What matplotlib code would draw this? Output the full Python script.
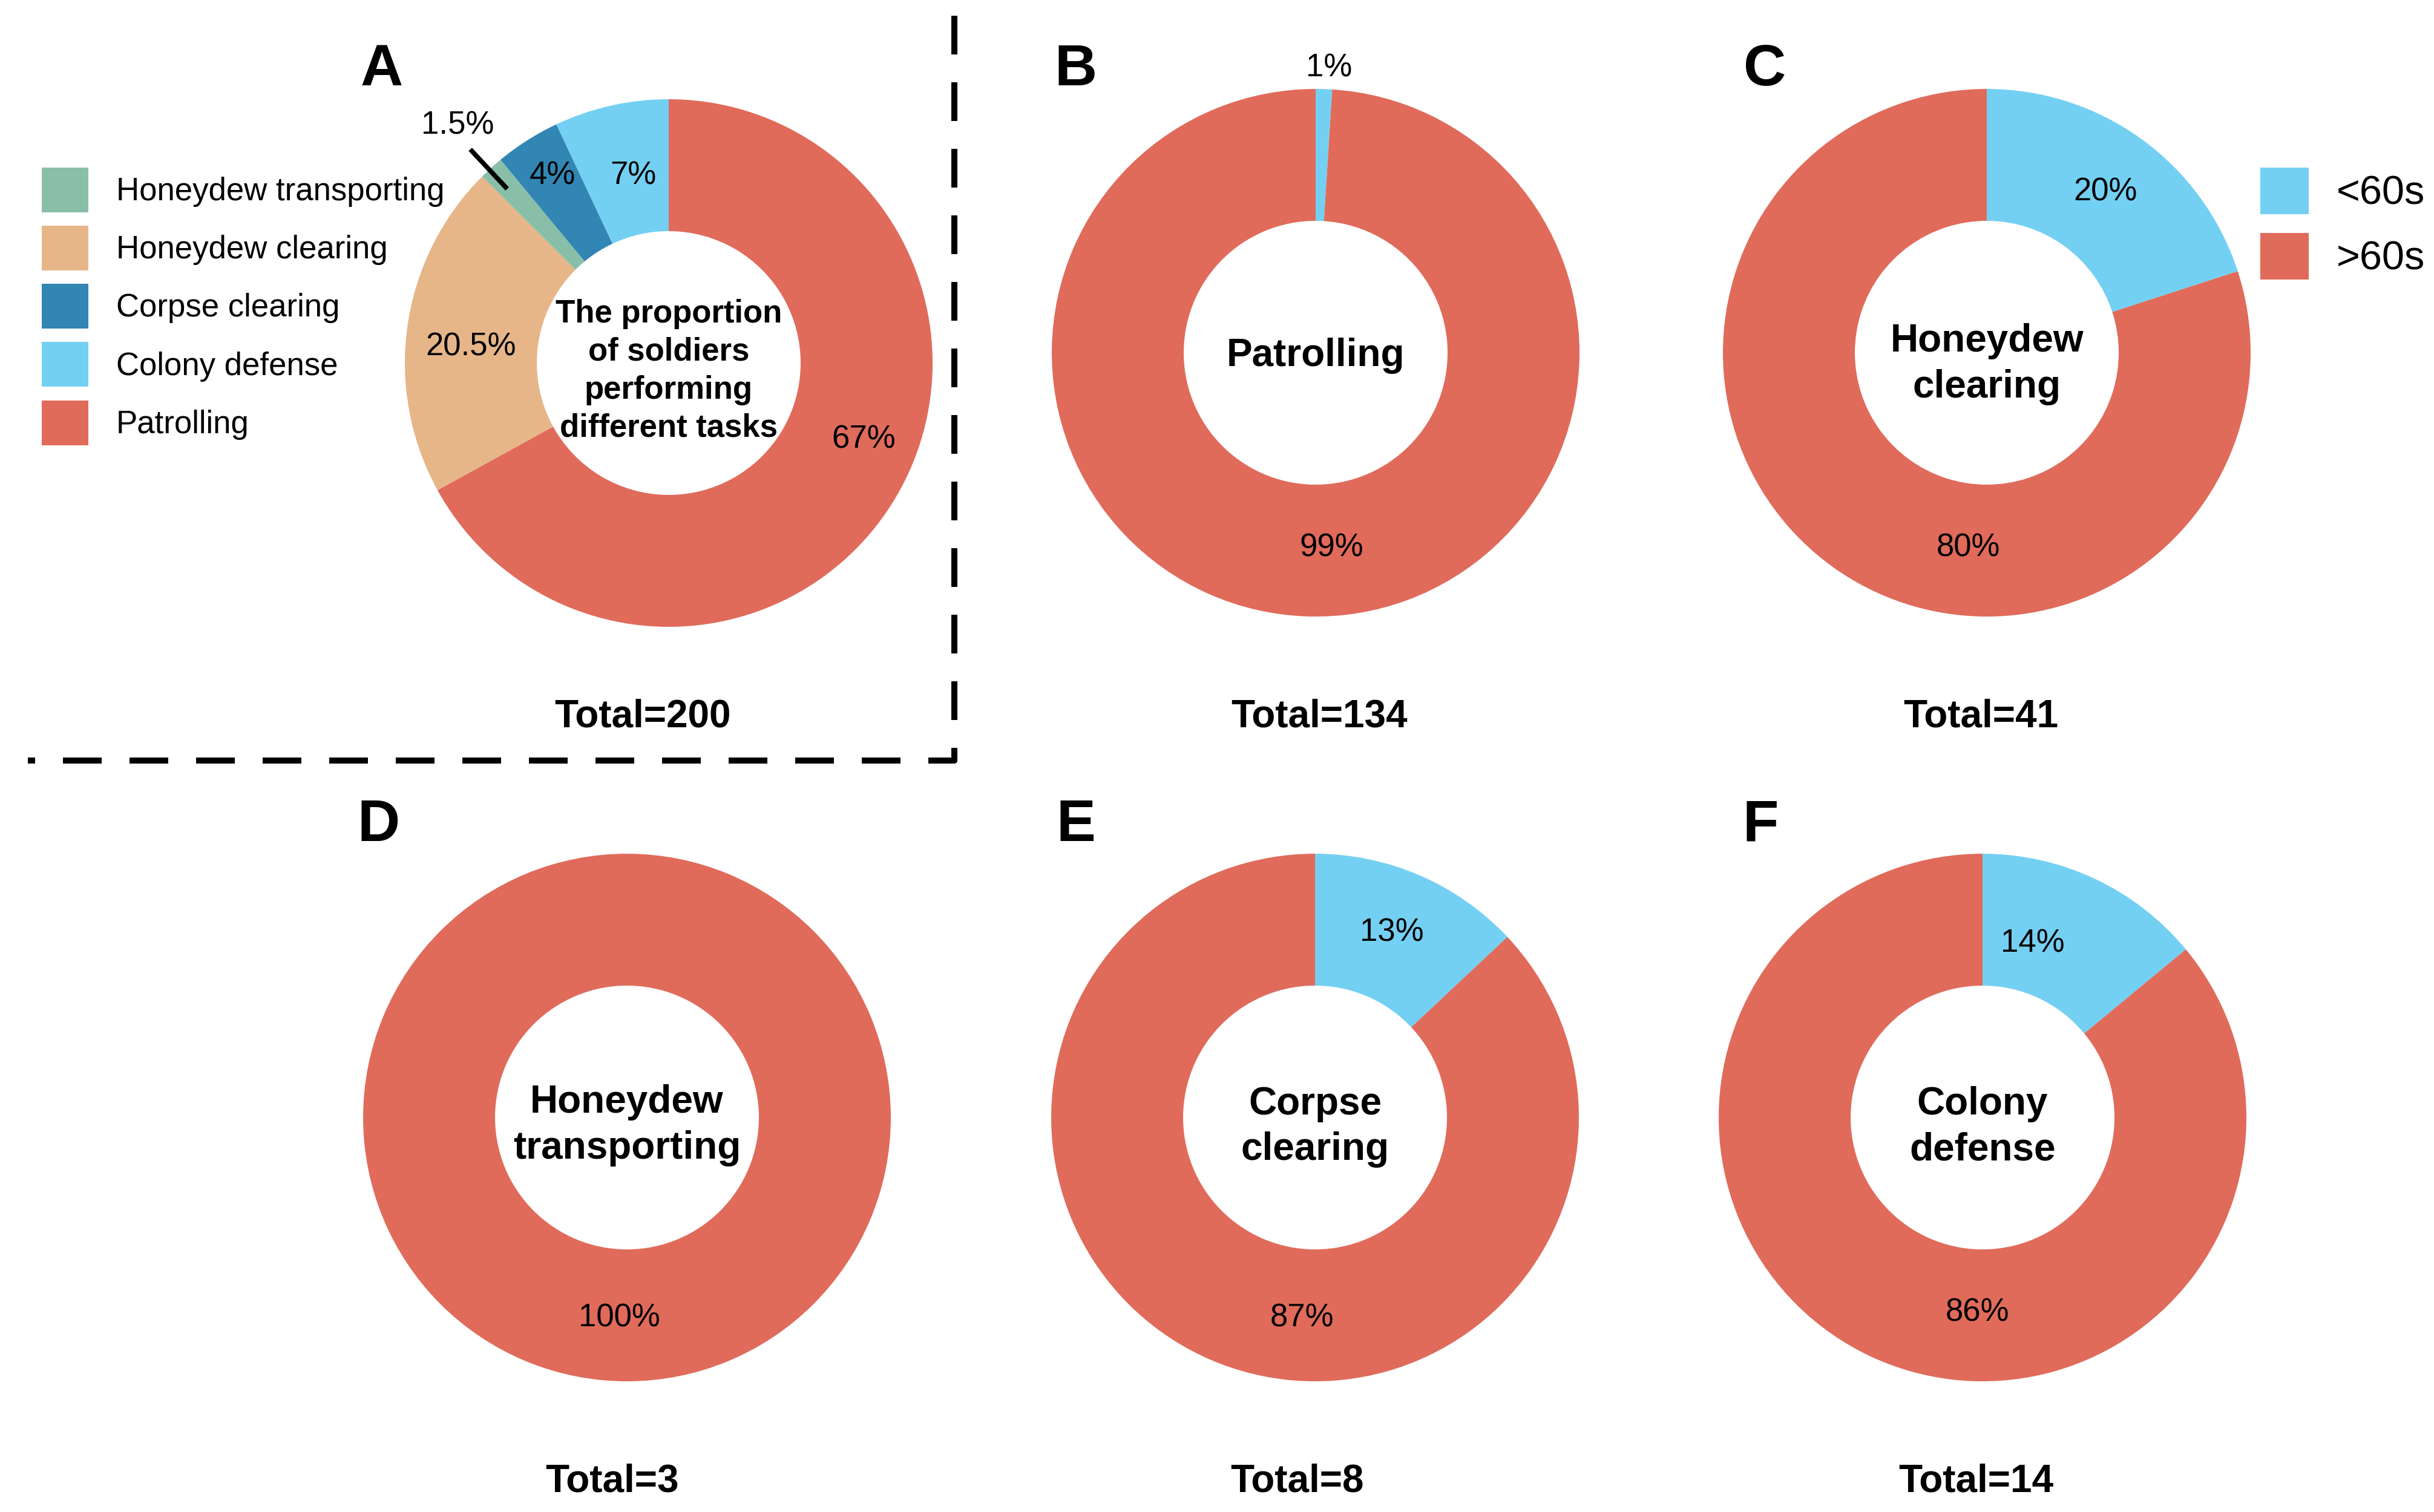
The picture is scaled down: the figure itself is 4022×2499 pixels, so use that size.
import matplotlib
matplotlib.use("Agg")
import matplotlib.pyplot as plt
from matplotlib.patches import Patch
from matplotlib.lines import Line2D

plt.rcParams['font.family'] = ['Liberation Sans', 'DejaVu Sans']

# ---------------- data ----------------
task_labels = ["Patrolling", "Honeydew clearing", "Honeydew transporting",
               "Corpse clearing", "Colony defense"]
task_pct = [67, 20.5, 1.5, 4, 7]
task_text = ["67%", "20.5%", "1.5%", "4%", "7%"]
legend_order = ["Honeydew transporting", "Honeydew clearing", "Corpse clearing",
                "Colony defense", "Patrolling"]

dur_labels = ["<60s", ">60s"]
panel_names = ["Patrolling", "Honeydew\nclearing", "Honeydew\ntransporting",
               "Corpse\nclearing", "Colony\ndefense"]
short_pct = [1, 20, 0, 13, 14]
long_pct = [99, 80, 100, 87, 86]
totals = [134, 41, 3, 8, 14]
total_A = 200

# ---------------- style ----------------
RED = "#E06B5B"
LBLUE = "#74D0F2"
DBLUE = "#3186B4"
TAN = "#E6B689"
GREEN = "#89BFA8"
task_colors = {"Patrolling": RED, "Honeydew clearing": TAN,
               "Honeydew transporting": GREEN, "Corpse clearing": DBLUE,
               "Colony defense": LBLUE}

W, H = 4022, 2499
DPI = 200
fig = plt.figure(figsize=(W / DPI, H / DPI), dpi=DPI)
R = 436


def fx(x):
    return x / W


def fy(y):
    return 1 - y / H


def donut_ax(cx, cy):
    ax = fig.add_axes([(cx - R) / W, (H - cy - R) / H, 2 * R / W, 2 * R / H])
    return ax


def finish(ax):
    ax.set_xlim(-1, 1)
    ax.set_ylim(-1, 1)
    ax.set_aspect('equal')
    ax.axis('off')


PCT_FS = 19
CENTER_FS = 23

# ---------------- panel A ----------------
axA = donut_ax(1105, 600)
axA.pie(task_pct, colors=[task_colors[l] for l in task_labels], startangle=90,
        counterclock=False, radius=1,
        wedgeprops=dict(width=0.5, linewidth=0))
finish(axA)
posA = {"67%": (0.74, -0.29), "20.5%": (-0.75, 0.06), "1.5%": (-0.80, 0.90),
        "4%": (-0.44, 0.71), "7%": (-0.135, 0.71)}
for t in task_text:
    x, y = posA[t]
    axA.text(x, y, t, ha='center', va='center', fontsize=PCT_FS)
axA.plot([-0.752, -0.612], [0.81, 0.66], color='black', lw=2.8,
         solid_capstyle='butt', clip_on=False)
axA.text(0, -0.03, "The proportion\nof soldiers\nperforming\ndifferent tasks",
         ha='center', va='center', fontsize=19, fontweight='bold',
         linespacing=1.33)

# ---------------- panels B-F ----------------
centers = [(2174, 583), (3283, 583), (1036, 1847), (2173, 1847), (3276, 1847)]
short_pos = [(0.05, 1.08), (0.45, 0.61), None, (0.29, 0.70), (0.19, 0.66)]
long_pos = [(0.06, -0.74), (-0.07, -0.74), (-0.03, -0.76), (-0.05, -0.76),
            (-0.02, -0.74)]
center_dy = [-0.012, -0.044, -0.03, -0.035, -0.035]
for i, (cx, cy) in enumerate(centers):
    ax = donut_ax(cx, cy)
    ax.pie([short_pct[i], long_pct[i]], colors=[LBLUE, RED], startangle=90,
           counterclock=False, radius=1,
           wedgeprops=dict(width=0.5, linewidth=0))
    finish(ax)
    if short_pos[i] is not None and short_pct[i] > 0:
        ax.text(*short_pos[i], f"{short_pct[i]}%", ha='center', va='center',
                fontsize=PCT_FS)
    ax.text(*long_pos[i], f"{long_pct[i]}%", ha='center', va='center',
            fontsize=PCT_FS)
    ax.text(0, center_dy[i], panel_names[i], ha='center', va='center',
            fontsize=CENTER_FS, fontweight='bold', linespacing=1.33)

# ---------------- totals ----------------
total_pos = [(1062, 1185), (2180, 1185), (3273, 1185), (1011, 2449),
             (2144, 2449), (3265, 2449)]
all_totals = [total_A] + totals
for (x, y), t in zip(total_pos, all_totals):
    fig.text(fx(x), fy(y), f"Total={t}", ha='center', va='center',
             fontsize=23, fontweight='bold')

# ---------------- panel letters ----------------
letters = ["A", "B", "C", "D", "E", "F"]
letter_pos = [(631, 116), (1778, 116), (2916, 116), (626, 1365), (1778, 1365),
              (2909, 1365)]
for (x, y), L in zip(letter_pos, letters):
    fig.text(fx(x), fy(y), L, ha='center', va='center', fontsize=35,
             fontweight='bold')

# ---------------- legends ----------------
hA = [Patch(facecolor=task_colors[l], edgecolor='none') for l in legend_order]
fig.legend(hA, legend_order, loc='upper left',
           bbox_to_anchor=(fx(69), fy(277)), frameon=False, fontsize=19,
           handlelength=1.46, handleheight=1.78, labelspacing=0.42,
           handletextpad=0.87, borderpad=0, borderaxespad=0)

hB = [Patch(facecolor=LBLUE, edgecolor='none'), Patch(facecolor=RED, edgecolor='none')]
fig.legend(hB, dur_labels, loc='upper left',
           bbox_to_anchor=(fx(3735), fy(277)), frameon=False, fontsize=24,
           handlelength=1.2, handleheight=1.4, labelspacing=0.46,
           handletextpad=0.69, borderpad=0, borderaxespad=0)

# ---------------- dashed separator ----------------
fig.add_artist(Line2D([fx(1577), fx(1577), fx(46)], [fy(26), fy(1257), fy(1257)],
                      transform=fig.transFigure, color='black', lw=3.6,
                      linestyle=(0, (6.4, 4.6)), dash_capstyle='butt',
                      solid_joinstyle='miter'))

fig.savefig("out.png", dpi=DPI, facecolor='white')
